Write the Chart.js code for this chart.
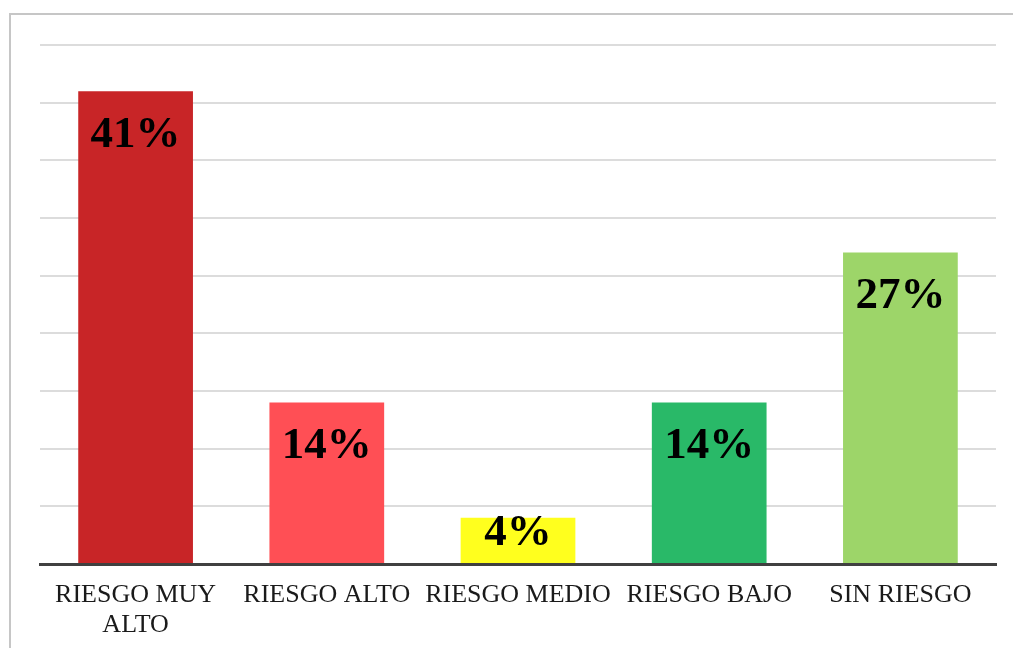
<!DOCTYPE html>
<html>
<head>
<meta charset="utf-8">
<script src="https://cdn.jsdelivr.net/npm/chart.js@4/dist/chart.umd.min.js"></script>
<style>
  html, body { margin: 0; padding: 0; background: #fff; overflow: hidden; }
  #wrap { position: relative; width: 1013px; height: 648px; }
  #frame { position: absolute; left: 9px; top: 13px; width: 1100px; height: 700px;
           border-left: 2px solid #c6c6c6; border-top: 2px solid #c6c6c6; }
  canvas { position: absolute; left: 0; top: 0; }
</style>
</head>
<body>
<div id="wrap">
  <div id="frame"></div>
  <canvas id="chart" width="1013" height="648"></canvas>
</div>
<script>
const categories = [['RIESGO MUY', 'ALTO'], 'RIESGO ALTO', 'RIESGO MEDIO', 'RIESGO BAJO', 'SIN RIESGO'];
const percentages = [41, 14, 4, 14, 27];
const barColors = ['#c82527', '#ff4f55', '#ffff1e', '#29b968', '#9dd569'];
const yMax = 45;
const yStep = 5;

// value labels drawn inside the top of each bar
const valueLabels = {
  id: 'valueLabels',
  afterDatasetsDraw(chart) {
    const { ctx, chartArea } = chart;
    const meta = chart.getDatasetMeta(0);
    ctx.save();
    ctx.font = 'bold 45px "Liberation Serif", "Times New Roman", serif';
    ctx.fillStyle = '#000';
    ctx.textAlign = 'center';
    ctx.textBaseline = 'middle';
    meta.data.forEach((bar, i) => {
      const y = Math.min(bar.y + 44, chartArea.bottom - 31);
      ctx.fillText(percentages[i] + '%', bar.x, y);
    });
    ctx.restore();
  }
};

new Chart(document.getElementById('chart').getContext('2d'), {
  type: 'bar',
  data: {
    labels: categories,
    datasets: [{
      data: percentages,
      backgroundColor: barColors,
      borderWidth: 0,
      categoryPercentage: 1,
      barPercentage: 0.6,
    }]
  },
  options: {
    responsive: false,
    animation: false,
    events: [],
    layout: { padding: { left: 40, right: 17, top: 45, bottom: 0 } },
    plugins: {
      legend: { display: false },
      tooltip: { enabled: false },
      title: { display: false },
    },
    scales: {
      x: {
        grid: { display: false, drawTicks: false },
        border: { display: true, color: '#404040', width: 3 },
        afterFit: (scale) => { scale.height = 84; },
        ticks: {
          color: '#1a1a1a',
          padding: 16,
          maxRotation: 0,
          autoSkip: false,
          font: { family: '"Liberation Serif", "Times New Roman", serif', size: 26, lineHeight: 1.15 },
        },
      },
      y: {
        min: 0,
        max: yMax,
        ticks: { display: false, stepSize: yStep },
        grid: {
          drawTicks: false,
          lineWidth: 2,
          color: (c) => (c.tick && c.tick.value === 0 ? 'rgba(0,0,0,0)' : '#dcdcdc'),
        },
        border: { display: false },
      },
    },
  },
  plugins: [valueLabels],
});
</script>
</body>
</html>
